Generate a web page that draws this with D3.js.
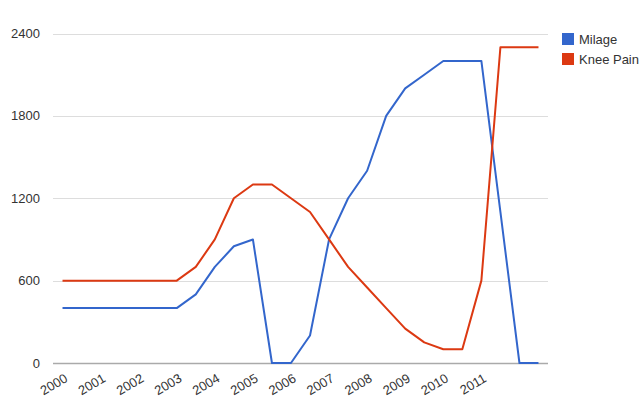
<!DOCTYPE html>
<html>
<head>
<meta charset="utf-8">
<script src="https://cdn.jsdelivr.net/npm/d3@7/dist/d3.min.js"></script>
<style>
  body { margin: 0; background: #fff; }
  text { font-family: Arial, "Liberation Sans", sans-serif; font-size: 13px; fill: #333; }
</style>
</head>
<body>
<script>
//Half-year steps from 2000, labels only on the whole years.
var periodLabels = ["2000","","2001","","2002","","2003","","2004","","2005","","2006","",
                    "2007","","2008","","2009","","2010","","2011","","",""];

//Series values.
var milage    = [400,400,400,400,400,400,400,500,700,850,900,0,0,200,900,1200,1400,1800,2000,2100,2200,2200,2200,1100,0,0];
var kneePain  = [600,600,600,600,600,600,600,700,900,1200,1300,1300,1200,1100,900,700,550,400,250,150,100,100,600,2300,2300,2300];

var seriesNames  = ["Milage", "Knee Pain"];
var seriesColors = ["#3366cc", "#dc3912"];
var yTicks = [0, 600, 1200, 1800, 2400];

//Saving Width and Height Variables.
var chartWidth = 640, chartHeight = 398;
var leftEdge = 53, rightEdge = 548, topEdge = 33.5, bottomEdge = 363;

var svg = d3.select("body").append("svg").attr("width", chartWidth).attr("height", chartHeight);

//Scales.
var x = d3.scalePoint().domain(d3.range(periodLabels.length)).range([leftEdge, rightEdge]).padding(0.5);
var y = d3.scaleLinear().domain([0, 2400]).range([bottomEdge, topEdge]);

//Gridlines.
svg.append("g").selectAll("line").data(yTicks).enter().append("line")
   .attr("x1", leftEdge).attr("x2", rightEdge)
   .attr("y1", function(d) { return Math.round(y(d)) + 0.5; })
   .attr("y2", function(d) { return Math.round(y(d)) + 0.5; })
   .attr("stroke", function(d) { return d === 0 ? "#aaa" : "#ddd"; })
   .attr("stroke-width", function(d) { return d === 0 ? 1.5 : 1; });

//Y labels.
svg.append("g").selectAll("text").data(yTicks).enter().append("text")
   .attr("x", 40).attr("y", function(d) { return y(d) + 4.5; })
   .attr("text-anchor", "end")
   .text(function(d) { return d; });

//X labels, rotated.
svg.append("g").selectAll("text")
   .data(periodLabels.map(function(l, i) { return {label: l, i: i}; }).filter(function(d) { return d.label !== ""; }))
   .enter().append("text")
   .attr("text-anchor", "end")
   .attr("transform", function(d) { return "translate(" + (x(d.i) + 6) + ",381) rotate(-30)"; })
   .text(function(d) { return d.label; });

//Lines.
var line = d3.line().x(function(d, i) { return x(i); }).y(function(d) { return y(d); });
[milage, kneePain].forEach(function(values, s) {
  svg.append("path").datum(values)
     .attr("d", line)
     .attr("fill", "none")
     .attr("stroke", seriesColors[s])
     .attr("stroke-width", 2)
     .attr("stroke-linejoin", "round");
});

//Legend.
var legend = svg.append("g").selectAll("g").data(seriesNames).enter().append("g")
   .attr("transform", function(d, i) { return "translate(562," + (33 + i * 20) + ")"; });
legend.append("rect").attr("width", 12).attr("height", 12)
   .attr("fill", function(d, i) { return seriesColors[i]; });
legend.append("text").attr("x", 17).attr("y", 10.5).text(function(d) { return d; });
</script>
</body>
</html>
